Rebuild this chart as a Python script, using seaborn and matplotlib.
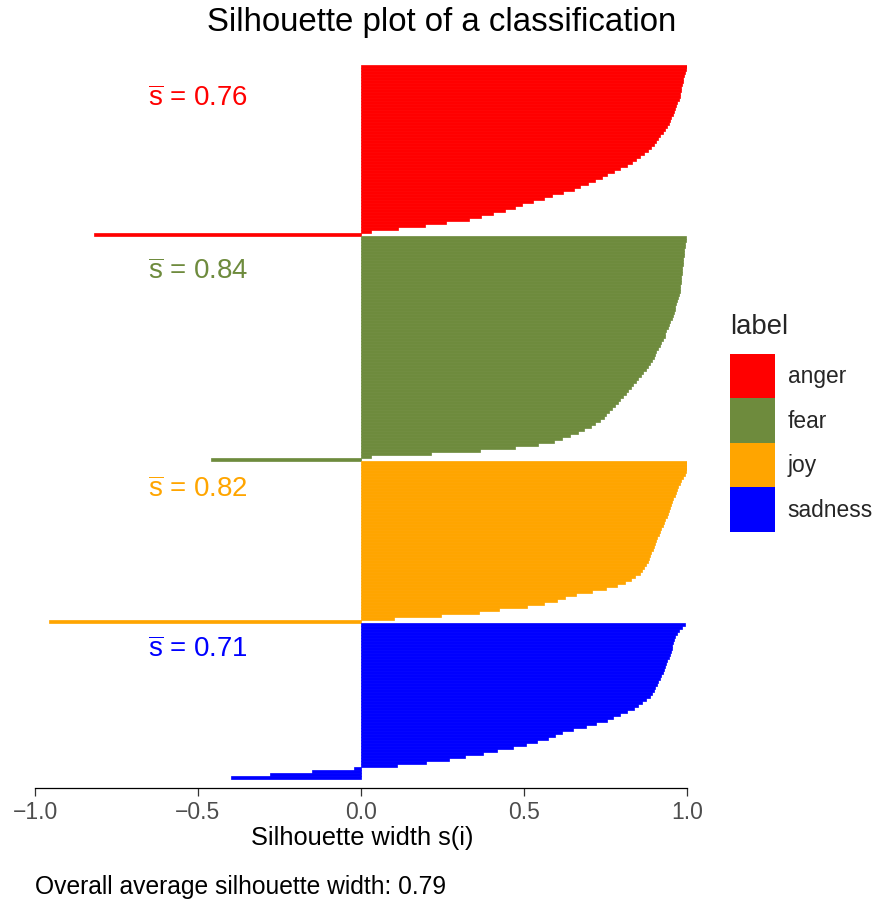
import numpy as np
import pandas as pd
import matplotlib
matplotlib.use("Agg")
import matplotlib.pyplot as plt
from matplotlib.patches import Patch
import seaborn as sns

# Sorted silhouette widths per class (top to bottom within each class)
labels = ["anger", "fear", "joy", "sadness"]
colors = ["#FF0000", "#6E8B3D", "#FFA500", "#0000FF"]

anger_s = [0.999, 0.996, 0.993, 0.991, 0.989, 0.987, 0.985, 0.983, 0.982, 0.980,
           0.977, 0.974, 0.970, 0.966, 0.963, 0.959, 0.956, 0.952, 0.949, 0.944,
           0.938, 0.932, 0.925, 0.918, 0.912, 0.905, 0.898, 0.889, 0.880, 0.869,
           0.857, 0.844, 0.831, 0.816, 0.796, 0.775, 0.756, 0.738, 0.719, 0.696,
           0.673, 0.654, 0.620, 0.587, 0.561, 0.528, 0.494, 0.471, 0.441, 0.404,
           0.367, 0.330, 0.262, 0.196, 0.115, 0.030, -0.820]

fear_s = [0.998, 0.996, 0.995, 0.993, 0.992, 0.991, 0.990, 0.989, 0.988, 0.987,
          0.986, 0.985, 0.984, 0.983, 0.982, 0.981, 0.980, 0.978, 0.977, 0.974,
          0.972, 0.970, 0.967, 0.964, 0.962, 0.959, 0.956, 0.953, 0.949, 0.946,
          0.941, 0.937, 0.933, 0.931, 0.926, 0.921, 0.916, 0.911, 0.906, 0.902,
          0.898, 0.893, 0.886, 0.880, 0.873, 0.866, 0.858, 0.851, 0.843, 0.835,
          0.827, 0.819, 0.812, 0.804, 0.796, 0.787, 0.778, 0.769, 0.761, 0.753,
          0.745, 0.732, 0.719, 0.704, 0.685, 0.665, 0.641, 0.616, 0.591, 0.544,
          0.472, 0.365, 0.215, 0.030, -0.460]

joy_s = [1.000, 1.000, 1.000, 0.997, 0.993, 0.988, 0.983, 0.978, 0.973, 0.968,
         0.965, 0.962, 0.958, 0.955, 0.952, 0.948, 0.945, 0.941, 0.938, 0.934,
         0.930, 0.925, 0.921, 0.917, 0.913, 0.909, 0.905, 0.902, 0.898, 0.895,
         0.891, 0.888, 0.884, 0.879, 0.874, 0.869, 0.862, 0.855, 0.842, 0.828,
         0.810, 0.785, 0.752, 0.708, 0.659, 0.625, 0.600, 0.560, 0.510, 0.422,
         0.361, 0.245, 0.100, -0.957]

sadness_s = [0.995, 0.985, 0.974, 0.968, 0.964, 0.961, 0.958, 0.955, 0.953, 0.950,
             0.947, 0.944, 0.940, 0.936, 0.932, 0.928, 0.925, 0.921, 0.917, 0.912,
             0.908, 0.903, 0.898, 0.893, 0.888, 0.875, 0.862, 0.850, 0.836, 0.815,
             0.795, 0.772, 0.755, 0.722, 0.690, 0.650, 0.616, 0.596, 0.575, 0.540,
             0.505, 0.465, 0.416, 0.374, 0.320, 0.270, 0.200, 0.110, -0.020, -0.150,
             -0.280, -0.400]

class_means = [0.76, 0.84, 0.82, 0.71]
overall_mean = 0.79

x_ticks = [-1.0, -0.5, 0.0, 0.5, 1.0]
x_tick_labels = ["\u22121.0", "\u22120.5", "0.0", "0.5", "1.0"]

# Long table: one row per observation, stacked class after class
widths = [anger_s, fear_s, joy_s, sadness_s]
frames = []
start = 0
starts = []
for lab, vals in zip(labels, widths):
    starts.append(start)
    frames.append(pd.DataFrame({"s": vals,
                                "pos": np.arange(start, start + len(vals)),
                                "label": lab}))
    start += len(vals)
df = pd.concat(frames, ignore_index=True)
n_obs = len(df)

sns.set_theme(style="white")
plt.rcParams["font.family"] = ["Liberation Sans", "DejaVu Sans"]
plt.rcParams["mathtext.fontset"] = "custom"
plt.rcParams["mathtext.rm"] = "Liberation Sans"
plt.rcParams["mathtext.it"] = "Liberation Sans:italic"

W, H = 878, 905
fig = plt.figure(figsize=(W / 100, H / 100), dpi=100)
ax = fig.add_axes([35 / W, (H - 788) / H, 652 / W, 732 / H])

sns.barplot(data=df, x="s", y="pos", hue="label", hue_order=labels,
            palette=colors, saturation=1, orient="h", native_scale=True,
            width=1.0, dodge=False, errorbar=None, linewidth=0,
            legend=False, ax=ax)
# close hairline seams between adjacent bars
for p in ax.patches:
    p.set_edgecolor(p.get_facecolor())
    p.set_linewidth(0.5)

ax.set_xlim(-1.0, 1.0)
ax.set_ylim(n_obs - 0.5 + 3, -0.5 - 3)
ax.yaxis.set_visible(False)
for side in ("left", "top", "right"):
    ax.spines[side].set_visible(False)
ax.spines["bottom"].set_color("black")
ax.spines["bottom"].set_linewidth(0.9)
ax.set_xticks(x_ticks)
ax.set_xticklabels(x_tick_labels)
ax.tick_params(axis="x", bottom=True, direction="out", length=6, width=0.9,
               color="#333333", labelsize=16.5, labelcolor="#4D4D4D", pad=3)
ax.set_xlabel("")
ax.set_ylabel("")
ax.grid(False)

# Per-class average annotations
label_offsets = [10.7, 11.5, 9.2, 8.5]
for st, off, m, c in zip(starts, label_offsets, class_means, colors):
    ax.text(-0.5, st + off, r"$\overline{\mathrm{s}}$" + f" = {m:.2f}",
            color=c, ha="center", va="center", fontsize=19.9)

fig.text(442 / W, 1 - 22 / H, "Silhouette plot of a classification",
         ha="center", va="center", fontsize=23.8, color="black")
fig.text(362 / W, 1 - 838 / H, "Silhouette width s(i)",
         ha="center", va="center", fontsize=18.3, color="black")
fig.text(35 / W, 1 - 887 / H, f"Overall average silhouette width: {overall_mean:.2f}",
         ha="left", va="center", fontsize=17.7, color="black")

handles = [Patch(facecolor=c, edgecolor="none") for c in colors]
leg = fig.legend(handles, labels, loc="upper left",
                 bbox_to_anchor=(730 / W, 1 - 314 / H), frameon=False,
                 title="label", title_fontsize=19.8, fontsize=16.4,
                 handlelength=1.97, handleheight=2.63, labelspacing=0,
                 handletextpad=0.57, borderpad=0, borderaxespad=0,
                 alignment="left")
leg._legend_box.sep = 10

fig.savefig("out.png", dpi=100)
